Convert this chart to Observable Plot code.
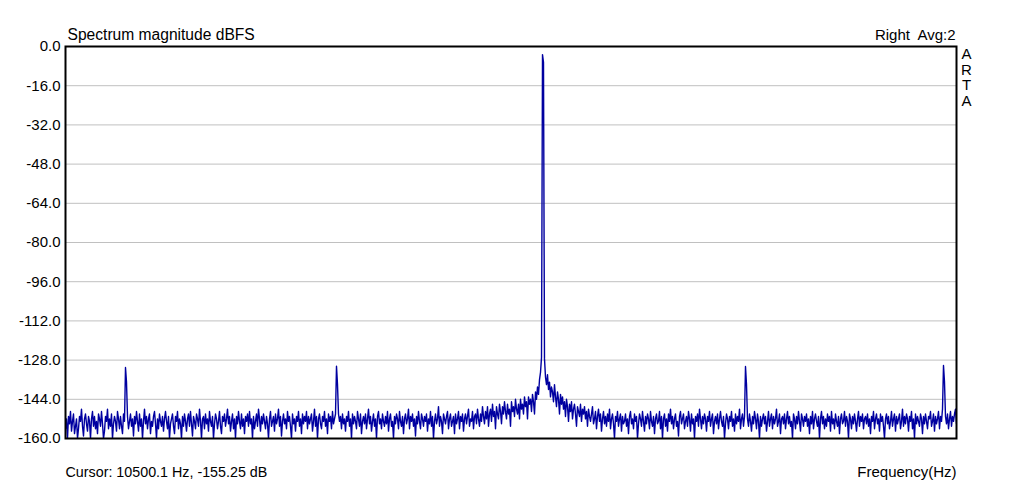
<!DOCTYPE html>
<html>
<head>
<meta charset="utf-8">
<script src="https://cdn.jsdelivr.net/npm/d3@7"></script>
<script src="https://cdn.jsdelivr.net/npm/@observablehq/plot@0.6"></script>
<style>
  html, body { margin: 0; padding: 0; background: #fff; }
</style>
</head>
<body>
<div id="chart"></div>
<script>
// Spectrum magnitude (dBFS), one value per display bin (892 bins across the frame)
const levelDb = [
  -156,-152,-160,-151,-154,-149,-157,-153,-150,-158,-155,-152,-160,-156,-151,-153,-148,-155,-159,-152,
  -150,-154,-157,-151,-153,-160,-152,-149,-155,-151,-156,-153,-158,-150,-152,-155,-149,-154,-160,-157,
  -151,-153,-148,-156,-152,-155,-150,-160,-154,-151,-153,-157,-149,-152,-156,-151,-155,-158,-150,-153,
  -131,-137,-151,-156,-153,-150,-155,-152,-159,-151,-154,-149,-153,-157,-150,-155,-152,-160,-153,-148,
  -154,-151,-156,-152,-150,-158,-153,-155,-151,-149,-154,-160,-152,-156,-150,-153,-155,-151,-157,-152,
  -149,-153,-156,-151,-160,-154,-152,-150,-155,-158,-151,-153,-149,-156,-152,-154,-160,-151,-155,-150,
  -153,-157,-152,-150,-155,-149,-154,-159,-151,-153,-156,-150,-152,-155,-148,-153,-160,-152,-151,-156,
  -150,-154,-152,-157,-149,-153,-155,-151,-160,-154,-150,-152,-156,-153,-149,-155,-158,-151,-153,-150,
  -155,-152,-148,-154,-151,-157,-153,-150,-156,-152,-160,-151,-154,-149,-153,-156,-150,-155,-152,-158,
  -151,-153,-150,-155,-149,-154,-152,-160,-151,-156,-153,-150,-155,-148,-152,-157,-151,-154,-150,-153,
  -156,-151,-154,-160,-152,-149,-155,-153,-151,-157,-150,-154,-152,-148,-155,-151,-159,-153,-150,-154,
  -152,-156,-149,-153,-151,-155,-160,-150,-154,-152,-157,-151,-153,-149,-155,-152,-158,-150,-154,-151,
  -153,-149,-156,-151,-154,-152,-150,-157,-153,-148,-155,-151,-160,-152,-150,-154,-156,-151,-153,-149,
  -155,-152,-158,-150,-153,-151,-156,-149,-154,-152,-150,-130.5,-138,-150,-153,-151,-156,-150,-154,-152,
  -157,-151,-153,-149,-155,-152,-160,-150,-154,-151,-153,-156,-149,-152,-155,-150,-158,-153,-151,-154,
  -150,-156,-152,-148,-154,-151,-157,-153,-150,-155,-152,-160,-151,-149,-154,-152,-156,-150,-153,-155,
  -151,-154,-149,-157,-152,-150,-155,-153,-160,-151,-154,-150,-152,-156,-149,-153,-155,-151,-158,-152,
  -150,-154,-152,-148,-156,-151,-153,-150,-155,-152,-159,-151,-154,-149,-153,-156,-150,-152,-155,-151,
  -153,-150,-157,-152,-154,-149,-155,-151,-160,-153,-150,-154,-152,-147,-155,-151,-153,-158,-150,-152,
  -154,-151,-149,-156,-152,-150,-155,-153,-151,-158,-150,-154,-152,-149,-156,-151,-153,-150,-157,-152,
  -150,-154,-151,-148,-155,-152,-153,-149,-156,-151,-150,-154,-148,-152,-155,-150,-153,-147,-151,-154,
  -149,-152,-147,-155,-150,-148,-153,-146,-151,-149,-156,-147,-150,-152,-146,-149,-154,-147,-150,-145,
  -149,-152,-146,-150,-148,-155,-145,-149,-147,-151,-144,-148,-150,-146,-152,-144,-148,-146,-150,-143,
  -147,-145,-152,-143,-146,-144,-149,-142,-145,-150,-141,-144,-139,-142,-136,-133,-127,-3.3,-6.5,-127.5,
  -135,-138,-134,-140,-137,-143,-139,-141,-145,-138,-143,-147,-141,-144,-150,-142,-146,-143,-148,-145,
  -151,-144,-147,-153,-146,-149,-145,-152,-148,-146,-150,-155,-147,-149,-151,-146,-153,-148,-150,-147,
  -152,-149,-155,-148,-151,-153,-150,-147,-154,-152,-149,-156,-151,-148,-153,-150,-157,-152,-149,-154,
  -151,-155,-150,-153,-148,-156,-152,-150,-154,-160,-151,-153,-149,-155,-152,-150,-157,-151,-154,-153,
  -150,-155,-152,-158,-151,-149,-154,-152,-156,-150,-153,-151,-160,-154,-150,-152,-155,-149,-153,-157,
  -151,-154,-150,-152,-156,-149,-153,-155,-151,-158,-152,-150,-154,-153,-149,-156,-151,-160,-152,-150,
  -155,-152,-157,-150,-153,-148,-154,-151,-156,-152,-150,-155,-153,-159,-151,-149,-154,-152,-150,-156,
  -153,-151,-155,-149,-152,-157,-150,-154,-152,-160,-151,-153,-150,-155,-148,-152,-156,-151,-154,-150,
  -152,-157,-151,-153,-149,-155,-152,-150,-158,-153,-151,-154,-150,-156,-152,-149,-153,-155,-151,-160,
  -154,-150,-152,-156,-151,-153,-149,-155,-152,-157,-150,-154,-151,-153,-148,-156,-152,-150,-155,-151,
  -130.6,-138,-152,-155,-150,-153,-157,-151,-154,-149,-152,-156,-150,-153,-160,-151,-155,-152,-150,-154,
  -151,-157,-153,-149,-155,-152,-150,-156,-151,-154,-152,-148,-155,-153,-150,-158,-152,-151,-154,-150,
  -156,-152,-149,-154,-151,-155,-153,-160,-150,-152,-156,-151,-154,-149,-153,-157,-150,-152,-155,-151,
  -153,-150,-155,-152,-158,-151,-154,-149,-156,-152,-150,-153,-155,-151,-160,-152,-149,-154,-151,-156,
  -152,-155,-150,-153,-151,-157,-149,-154,-152,-156,-150,-153,-155,-151,-158,-152,-150,-154,-153,-149,
  -155,-151,-153,-160,-150,-152,-156,-151,-154,-150,-153,-157,-152,-149,-155,-151,-153,-150,-156,-152,
  -151,-154,-150,-155,-152,-158,-151,-153,-149,-156,-152,-150,-154,-152,-157,-150,-153,-151,-155,-160,
  -152,-150,-154,-151,-156,-153,-149,-155,-152,-150,-157,-151,-154,-152,-150,-156,-153,-148,-155,-151,
  -154,-150,-152,-157,-151,-153,-149,-156,-152,-160,-150,-154,-151,-153,-155,-150,-152,-158,-151,-154,
  -150,-153,-156,-151,-152,-149,-155,-153,-150,-157,-151,-154,-152,-149,-156,-151,-153,-148,-130.2,-137,
  -151,-154,-150,-156,-152,-149,-155,-151,-153,-150,-148,-154
];
const yTicks = [0, -16, -32, -48, -64, -80, -96, -112, -128, -144, -160];
const titleText = "Spectrum magnitude dBFS";
const channelText = "Right\u00a0 Avg:2";
const brandText = "A\nR\nT\nA";
const cursorText = "Cursor: 10500.1 Hz, -155.25 dB";
const xLabelText = "Frequency(Hz)";

const data = levelDb.map((v, i) => ({bin: i, db: Math.max(v, -160)}));
const font = "'Liberation Sans', Arial, sans-serif";

const chart = Plot.plot({
  width: 1020,
  height: 501,
  marginLeft: 65,
  marginRight: 64,
  marginTop: 46,
  marginBottom: 63,
  style: {fontFamily: font, fontSize: "15px", background: "#fff", color: "#000"},
  x: {domain: [0, levelDb.length - 1], axis: null},
  y: {domain: [-160, 0], axis: null},
  marks: [
    Plot.gridY(yTicks, {stroke: "#c0c0c0", strokeOpacity: 1, strokeWidth: 1}),
    Plot.line(data, {x: "bin", y: "db", stroke: "#0000a0", strokeWidth: 1.4, clip: true}),
    Plot.frame({stroke: "#000", strokeWidth: 2}),
    Plot.axisY(yTicks, {tickSize: 0, tickPadding: 5, tickFormat: d => d.toFixed(1), label: null, fontSize: 15, fill: "#000"}),
    Plot.text([titleText], {frameAnchor: "top-left", textAnchor: "start", lineAnchor: "bottom", dx: 2, dy: -7, fontSize: 15.6, fill: "#000"}),
    Plot.text([channelText], {frameAnchor: "top-right", textAnchor: "end", lineAnchor: "bottom", dx: -1, dy: -7, fontSize: 15, fill: "#000"}),
    Plot.text([brandText], {frameAnchor: "top-right", textAnchor: "middle", lineAnchor: "top", dx: 10, dy: 2, lineHeight: 1.03, fontSize: 15, fill: "#000"}),
    Plot.text([cursorText], {frameAnchor: "bottom-left", textAnchor: "start", lineAnchor: "bottom", dx: 0, dy: 38.5, fontSize: 14.3, fill: "#000"}),
    Plot.text([xLabelText], {frameAnchor: "bottom-right", textAnchor: "end", lineAnchor: "bottom", dx: 0, dy: 38.5, fontSize: 15, fill: "#000"})
  ]
});
document.getElementById("chart").appendChild(chart);
</script>
</body>
</html>
